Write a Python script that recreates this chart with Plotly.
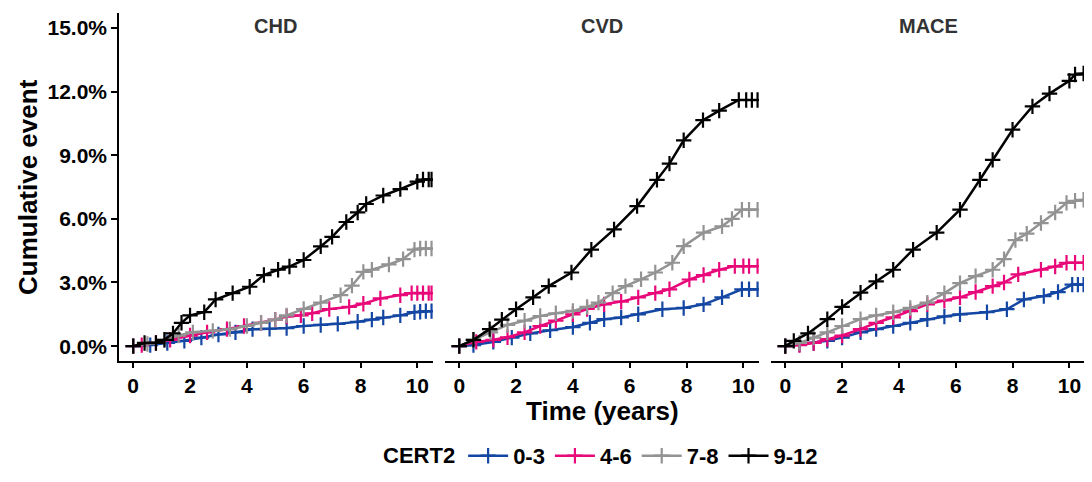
import plotly.graph_objects as go
from plotly.subplots import make_subplots

panels = ["CHD", "CVD", "MACE"]
groups = ["0-3", "4-6", "7-8", "9-12"]
colors = ["#1447a3", "#e8087a", "#939393", "#000000"]

# CHD
chd_t = {
    "0-3": [0, 0.6, 1.2, 1.8, 2.4, 3.0, 3.6, 4.2, 4.8, 5.4, 6.0, 6.6, 7.2, 7.9, 8.4, 8.8, 9.4, 9.9, 10.1, 10.3, 10.5],
    "4-6": [0, 0.3, 0.8, 1.3, 2.0, 2.6, 3.3, 3.9, 4.5, 5.0, 5.4, 5.9, 6.3, 6.9, 7.6, 8.1, 8.7, 9.4, 9.8, 10.0, 10.2, 10.4, 10.5],
    "7-8": [0, 0.5, 1.1, 1.6, 2.1, 2.8, 3.4, 4.0, 4.5, 5.0, 5.4, 6.0, 6.6, 7.3, 7.7, 8.1, 8.4, 9.0, 9.5, 9.9, 10.1, 10.3, 10.5],
    "9-12": [0, 0.4, 0.8, 1.1, 1.4, 1.7, 2.0, 2.5, 2.9, 3.5, 4.1, 4.6, 5.1, 5.5, 6.0, 6.6, 7.0, 7.5, 7.9, 8.2, 8.8, 9.4, 10.0, 10.2, 10.4, 10.5],
}
chd_y = {
    "0-3": [0, 0.05, 0.15, 0.25, 0.4, 0.55, 0.65, 0.8, 0.82, 0.85, 0.95, 1.0, 1.05, 1.15, 1.25, 1.35, 1.45, 1.6, 1.62, 1.65, 1.65],
    "4-6": [0, 0.05, 0.15, 0.3, 0.5, 0.65, 0.8, 0.95, 1.1, 1.25, 1.4, 1.45, 1.55, 1.75, 1.85, 2.0, 2.25, 2.4, 2.5, 2.5, 2.5, 2.5, 2.5],
    "7-8": [0, 0.1, 0.3, 0.5, 0.65, 0.72, 0.8, 0.95, 1.1, 1.25, 1.45, 1.75, 2.05, 2.4, 2.85, 3.5, 3.6, 3.85, 4.1, 4.55, 4.6, 4.6, 4.6],
    "9-12": [0, 0.15, 0.15, 0.3, 0.6, 1.1, 1.45, 1.6, 2.2, 2.5, 2.8, 3.35, 3.6, 3.75, 4.06, 4.7, 5.15, 5.85, 6.3, 6.7, 7.1, 7.4, 7.75, 7.85, 7.85, 7.85],
}

# CVD
cvd_t = {
    "0-3": [0, 0.5, 1.2, 1.85, 2.5, 3.2, 4.0, 4.6, 5.1, 5.7, 6.3, 7.15, 7.9, 8.6, 9.25, 9.95, 10.2, 10.5],
    "4-6": [0, 0.6, 1.2, 1.7, 2.3, 2.85, 3.4, 4.0, 4.5, 5.1, 5.7, 6.3, 6.9, 7.4, 8.1, 8.6, 9.15, 9.7, 10.0, 10.2, 10.5],
    "7-8": [0, 0.5, 1.1, 1.7, 2.3, 2.85, 3.4, 4.0, 4.5, 4.9, 5.4, 5.85, 6.4, 6.9, 7.5, 7.9, 8.6, 9.25, 9.6, 9.95, 10.2, 10.5],
    "9-12": [0, 0.5, 1.07, 1.5, 2.0, 2.6, 3.15, 3.95, 4.65, 5.45, 6.26, 6.96, 7.4, 7.9, 8.58, 9.15, 9.84, 10.1, 10.3, 10.5],
}
cvd_y = {
    "0-3": [0, 0.05, 0.2, 0.4, 0.6, 0.75, 0.9, 1.1, 1.27, 1.35, 1.5, 1.74, 1.8, 1.97, 2.3, 2.68, 2.68, 2.68],
    "4-6": [0, 0.2, 0.3, 0.42, 0.65, 0.95, 1.2, 1.5, 1.75, 1.97, 2.1, 2.3, 2.5, 2.68, 3.14, 3.35, 3.6, 3.77, 3.77, 3.77, 3.77],
    "7-8": [0, 0.3, 0.65, 1.0, 1.2, 1.42, 1.55, 1.66, 1.85, 2.05, 2.5, 2.83, 3.15, 3.47, 3.93, 4.71, 5.35, 5.65, 6.0, 6.43, 6.43, 6.43],
    "9-12": [0, 0.3, 0.8, 1.25, 1.74, 2.3, 2.83, 3.47, 4.55, 5.5, 6.6, 7.84, 8.6, 9.7, 10.65, 11.1, 11.6, 11.6, 11.6, 11.6],
}

# MACE
mace_t = {
    "0-3": [0, 0.5, 1.0, 1.48, 2.0, 2.65, 3.2, 3.8, 4.4, 5.0, 5.6, 6.15, 7.1, 7.8, 8.4, 9.1, 9.6, 10.1, 10.3, 10.5],
    "4-6": [0, 0.5, 1.0, 1.48, 2.0, 2.65, 3.2, 3.8, 4.4, 5.0, 5.6, 6.15, 6.7, 7.3, 7.7, 8.2, 9.0, 9.5, 9.9, 10.2, 10.5],
    "7-8": [0, 0.5, 1.0, 1.48, 2.0, 2.65, 3.2, 3.8, 4.4, 5.0, 5.6, 6.15, 6.7, 7.3, 7.7, 8.1, 8.5, 9.0, 9.5, 9.9, 10.2, 10.5],
    "9-12": [0, 0.3, 0.8, 1.48, 2.0, 2.65, 3.2, 3.8, 4.5, 5.33, 6.15, 6.85, 7.3, 8.0, 8.7, 9.3, 10.0, 10.2, 10.5],
}
mace_y = {
    "0-3": [0, 0.08, 0.15, 0.25, 0.4, 0.65, 0.8, 0.95, 1.1, 1.27, 1.4, 1.5, 1.6, 1.74, 2.2, 2.36, 2.55, 2.9, 2.9, 2.9],
    "4-6": [0, 0.05, 0.15, 0.33, 0.5, 0.8, 1.1, 1.36, 1.65, 1.97, 2.15, 2.3, 2.55, 2.83, 3.0, 3.38, 3.6, 3.75, 3.93, 3.93, 3.93],
    "7-8": [0, 0.15, 0.4, 0.65, 0.95, 1.27, 1.45, 1.6, 1.8, 2.05, 2.5, 2.97, 3.3, 3.6, 4.1, 5.0, 5.3, 5.8, 6.3, 6.75, 6.85, 6.9],
    "9-12": [0, 0.25, 0.6, 1.27, 1.85, 2.52, 3.05, 3.6, 4.55, 5.35, 6.43, 7.84, 8.78, 10.2, 11.3, 11.9, 12.5, 12.8, 12.85],
}

panel_data = [(chd_t, chd_y), (cvd_t, cvd_y), (mace_t, mace_y)]

x_ticks = [0, 2, 4, 6, 8, 10]
y_ticks = [0, 3, 6, 9, 12, 15]
y_tick_labels = ["0.0%", "3.0%", "6.0%", "9.0%", "12.0%", "15.0%"]

FONT = "Liberation Sans, Arial, sans-serif"

fig = make_subplots(rows=1, cols=3, shared_yaxes=True, horizontal_spacing=0.0125)

for ci, (tt, yy) in enumerate(panel_data):
    for g, c in zip(groups, colors):
        fig.add_trace(
            go.Scatter(
                x=tt[g], y=yy[g], mode="lines+markers", name=g,
                legendgroup=g, showlegend=(ci == 0),
                line=dict(color=c, width=2.5),
                marker=dict(symbol="cross-thin", size=11, color=c, line=dict(width=2.2, color=c)),
            ),
            row=1, col=ci + 1,
        )

for ci in range(3):
    fig.update_xaxes(
        row=1, col=ci + 1,
        range=[-0.5, 10.55], tickvals=x_ticks, automargin=False,
        showline=True, linecolor="black", linewidth=1.5,
        ticks="outside", ticklen=5, tickwidth=1.5, tickcolor="black",
        showgrid=False, zeroline=False,
        tickfont=dict(family=FONT, size=21, color="black", weight="bold"),
    )
    fig.update_yaxes(
        row=1, col=ci + 1, automargin=False,
        range=[-0.7, 15.7], showgrid=False, zeroline=False,
    )

fig.update_yaxes(
    row=1, col=1,
    tickvals=y_ticks, ticktext=y_tick_labels,
    showline=True, linecolor="black", linewidth=1.5,
    ticks="outside", ticklen=6, tickwidth=1.5, tickcolor="black",
    tickfont=dict(family=FONT, size=21, color="black", weight="bold"),
)
for ci in (2, 3):
    fig.update_yaxes(row=1, col=ci, showticklabels=False, ticks="", showline=False)

# axis titles
fig.add_annotation(
    text="<b>Cumulative event</b>", textangle=-90, x=-0.0942, xref="paper", xanchor="center",
    y=0.5, yref="paper", yanchor="middle", showarrow=False,
    font=dict(family=FONT, size=26, color="black"),
)
fig.add_annotation(
    text="<b>Time (years)</b>", x=0.5, xref="x2 domain", xanchor="center",
    y=-0.145, yref="paper", yanchor="middle", showarrow=False,
    font=dict(family=FONT, size=26, color="black"),
)

for ci, name in enumerate(panels):
    xref = "x domain" if ci == 0 else f"x{ci + 1} domain"
    fig.add_annotation(
        text=f"<b>{name}</b>", x=0.5, y=1.0, xref=xref, yref="paper",
        xanchor="center", yanchor="top", yshift=0, showarrow=False,
        font=dict(family=FONT, size=20, color="#333333"),
    )

fig.update_layout(
    width=1084, height=474,
    margin=dict(l=111, r=7, t=5, b=121),
    plot_bgcolor="white", paper_bgcolor="white",
    legend=dict(
        orientation="h", x=0.5, xanchor="center", y=-0.333, yanchor="bottom",
        title=dict(text="CERT2", side="left", font=dict(family=FONT, size=22, color="black", weight="bold")),
        font=dict(family=FONT, size=22, color="black", weight="bold"),
        itemwidth=40, tracegroupgap=0,
    ),
)

fig.write_html("out.html")
